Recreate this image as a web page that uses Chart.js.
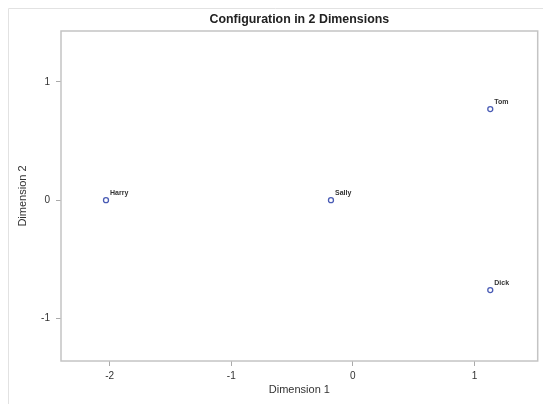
<!DOCTYPE html>
<html>
<head>
<meta charset="utf-8">
<script src="https://cdn.jsdelivr.net/npm/chart.js@4/dist/chart.umd.min.js"></script>
<style>
  body { margin: 0; background: #fff; }
  #wrap { width: 543px; height: 404px; }
</style>
</head>
<body>
<div id="wrap"><canvas id="chart" width="543" height="404"></canvas></div>
<script>
const title = "Configuration in 2 Dimensions";
const names = ["Harry", "Sally", "Tom", "Dick"];
const dim1 = [-2.03, -0.18, 1.13, 1.13];
const dim2 = [0.0, 0.0, 0.77, -0.76];
const xTicks = [-2, -1, 0, 1];
const yTicks = [-1, 0, 1];

const points = names.map((n, i) => ({ x: dim1[i], y: dim2[i] }));

const frame = {
  id: "frame",
  beforeDraw(chart) {
    const ctx = chart.ctx;
    ctx.save();
    ctx.strokeStyle = "#e2e2e2";
    ctx.lineWidth = 1;
    ctx.beginPath();
    ctx.moveTo(8.5, 404);
    ctx.lineTo(8.5, 8.5);
    ctx.lineTo(543, 8.5);
    ctx.stroke();
    ctx.restore();
  },
  afterDatasetsDraw(chart) {
    const { ctx, chartArea: a } = chart;
    ctx.save();
    ctx.strokeStyle = "#c4c4c4";
    ctx.lineWidth = 1.5;
    ctx.strokeRect(a.left, a.top, a.right - a.left, a.bottom - a.top);
    // title centred over the plot box
    ctx.fillStyle = "#222";
    ctx.font = "bold 12.4px 'Liberation Sans', Arial, sans-serif";
    ctx.textAlign = "center";
    ctx.textBaseline = "middle";
    ctx.fillText(title, (a.left + a.right) / 2, 20);
    // point labels
    const xs = chart.scales.x, ys = chart.scales.y;
    ctx.fillStyle = "#333";
    ctx.font = "bold 7px 'Liberation Sans', Arial, sans-serif";
    ctx.textAlign = "left";
    ctx.textBaseline = "alphabetic";
    names.forEach((n, i) => {
      const px = xs.getPixelForValue(dim1[i]);
      const py = ys.getPixelForValue(dim2[i]);
      ctx.fillText(n, px + 4, py - 5);
    });
    ctx.restore();
  }
};

new Chart(document.getElementById("chart"), {
  type: "scatter",
  data: {
    datasets: [{
      data: points,
      pointStyle: "circle",
      pointRadius: 2.5,
      pointBorderWidth: 1.3,
      pointBorderColor: "#4a5cb5",
      pointBackgroundColor: "rgba(0,0,0,0)"
    }]
  },
  options: {
    responsive: false,
    animation: false,
    layout: { padding: { left: 16, right: 5, top: 31, bottom: 7 } },
    plugins: {
      legend: { display: false },
      tooltip: { enabled: false },
      title: { display: false }
    },
    scales: {
      x: {
        type: "linear",
        min: -2.4,
        max: 1.52,
        afterBuildTicks(s) { s.ticks = xTicks.map(v => ({ value: v })); },
        afterFit(s) { s.height = 36; },
        grid: { drawOnChartArea: false, drawTicks: true, tickLength: 5, color: "#aaa" },
        border: { display: false },
        ticks: {
          color: "#333",
          padding: 4,
          font: { family: "'Liberation Sans', Arial, sans-serif", size: 10 }
        },
        title: {
          display: true,
          text: "Dimension 1",
          color: "#333",
          padding: { top: 2, bottom: 0 },
          font: { family: "'Liberation Sans', Arial, sans-serif", size: 11 }
        }
      },
      y: {
        type: "linear",
        min: -1.36,
        max: 1.43,
        afterBuildTicks(s) { s.ticks = yTicks.map(v => ({ value: v })); },
        afterFit(s) { s.width = 45; },
        grid: { drawOnChartArea: false, drawTicks: true, tickLength: 5, color: "#aaa" },
        border: { display: false },
        ticks: {
          color: "#333",
          padding: 6,
          font: { family: "'Liberation Sans', Arial, sans-serif", size: 10 }
        },
        title: {
          display: true,
          text: "Dimension 2",
          color: "#333",
          padding: { top: 0, bottom: 0 },
          font: { family: "'Liberation Sans', Arial, sans-serif", size: 11 }
        }
      }
    }
  },
  plugins: [frame]
});
</script>
</body>
</html>
